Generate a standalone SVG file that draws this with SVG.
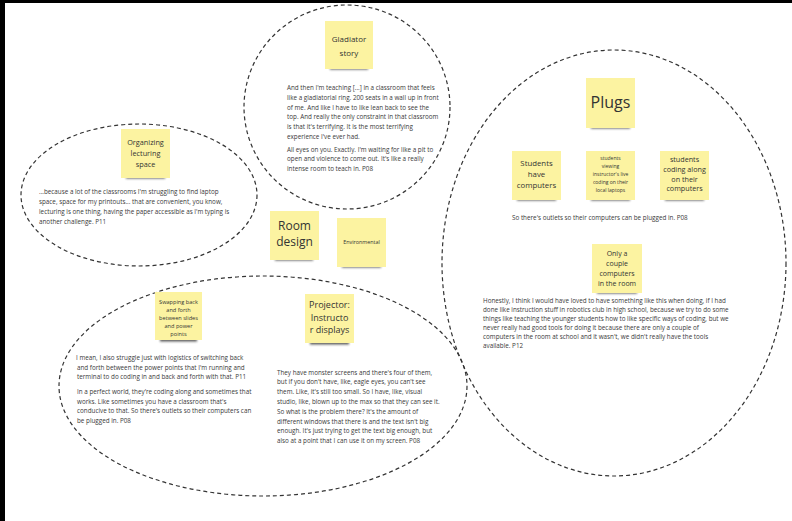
<svg xmlns="http://www.w3.org/2000/svg" width="792" height="521" viewBox="0 0 792 521">
<defs>
<filter id="blur" x="-20%" y="-200%" width="140%" height="500%"><feGaussianBlur stdDeviation="1.3"/></filter>
</defs>
<style>
.st{fill:#fcf3a1}
.sh{fill:#333;opacity:.8;filter:url(#blur)}
.ring{fill:none;stroke:#333;stroke-width:1.2;stroke-dasharray:4 3}
.bd{font-family:'Open Sans','DejaVu Sans',sans-serif;font-size:6.3px;fill:#3a3a3a}
.lb{font-family:'Open Sans','DejaVu Sans',sans-serif;fill:#333;text-anchor:middle}
</style>
<rect x="0" y="0" width="792" height="521" fill="#ffffff"/>
<rect x="0" y="0" width="792" height="3" fill="#000"/>
<rect x="0" y="0" width="5" height="521" fill="#000"/>

<g id="clusters">
<ellipse class="ring" cx="347" cy="107" rx="103" ry="102"/>
<ellipse class="ring" cx="139" cy="195" rx="118" ry="71"/>
<ellipse class="ring" cx="263" cy="386" rx="204" ry="110"/>
<ellipse class="ring" cx="614" cy="263" rx="172" ry="213"/>
</g>

<g id="connectors"></g>

<g id="gladiator-story">
<rect class="sh" x="330" y="66" width="38" height="3.5"/>
<rect class="st" x="325" y="21" width="48" height="48"/>
<text class="lb" font-size="8" x="349" y="42">Gladiator</text>
<text class="lb" font-size="8" x="349" y="56">story</text>
</g>
<g id="gladiator-quote">
<text class="bd">
<tspan x="287" y="90">And then I'm teaching [...] in a classroom that feels</tspan>
<tspan x="287" y="99.8">like a gladiatorial ring. 200 seats in a wall up in front</tspan>
<tspan x="287" y="109.6">of me. And like I have to like lean back to see the</tspan>
<tspan x="287" y="119.4">top. And really the only constraint in that classroom</tspan>
<tspan x="287" y="129.2">is that it's terrifying. It is the most terrifying</tspan>
<tspan x="287" y="139">experience I've ever had.</tspan>
<tspan x="287" y="151.5">All eyes on you. Exactly. I'm waiting for like a pit to</tspan>
<tspan x="287" y="161.3">open and violence to come out. It's like a really</tspan>
<tspan x="287" y="171.1">intense room to teach in. P08</tspan>
</text>
</g>

<g id="organizing-lecturing-space">
<rect class="sh" x="126" y="175" width="39" height="3.5"/>
<rect class="st" x="121" y="129" width="49" height="49"/>
<text class="lb" font-size="7.3" x="145.5" y="145">Organizing</text>
<text class="lb" font-size="7.3" x="145.5" y="156">lecturing</text>
<text class="lb" font-size="7.3" x="145.5" y="167">space</text>
</g>
<g id="organizing-quote">
<text class="bd">
<tspan x="39" y="194">...because a lot of the classrooms I'm struggling to find laptop</tspan>
<tspan x="39" y="204">space, space for my printouts... that are convenient, you know,</tspan>
<tspan x="39" y="214">lecturing is one thing, having the paper accessible as I'm typing is</tspan>
<tspan x="39" y="224">another challenge. P11</tspan>
</text>
</g>

<g id="room-design">
<rect class="sh" x="275" y="257" width="38" height="3.5"/>
<rect class="st" x="270" y="211" width="49" height="49"/>
<text class="lb" font-size="12" x="294.5" y="229.5">Room</text>
<text class="lb" font-size="12" x="294.5" y="246">design</text>
</g>

<g id="environmental">
<rect class="sh" x="342" y="264" width="39" height="3.5"/>
<rect class="st" x="337" y="218" width="49" height="49"/>
<text class="lb" font-size="5.4" x="361.5" y="243.5">Environmental</text>
</g>

<g id="swapping">
<rect class="sh" x="160" y="338" width="37" height="3.5"/>
<rect class="st" x="155" y="292" width="47" height="48"/>
<text class="lb" font-size="5.6" x="178.5" y="304">Swapping back</text>
<text class="lb" font-size="5.6" x="178.5" y="312">and forth</text>
<text class="lb" font-size="5.6" x="178.5" y="320">between slides</text>
<text class="lb" font-size="5.6" x="178.5" y="328">and power</text>
<text class="lb" font-size="5.6" x="178.5" y="336">points</text>
</g>
<g id="swapping-quotes">
<text class="bd">
<tspan x="76" y="360">I mean, I also struggle just with logistics of switching back</tspan>
<tspan x="77" y="369.5">and forth between the power points that I'm running and</tspan>
<tspan x="77" y="379">terminal to do coding in and back and forth with that.  P11</tspan>
</text>
<text class="bd">
<tspan x="77" y="394">In a perfect world, they're coding along and sometimes that</tspan>
<tspan x="77" y="403.5">works. Like sometimes you have a classroom that's</tspan>
<tspan x="77" y="413">conducive to that. So there's outlets so their computers can</tspan>
<tspan x="77" y="422.5">be plugged in. P08</tspan>
</text>
</g>

<g id="projector">
<rect class="sh" x="310" y="341" width="39" height="3.5"/>
<rect class="st" x="305" y="294" width="49" height="49"/>
<text class="lb" font-size="9" x="329.5" y="308">Projector:</text>
<text class="lb" font-size="9" x="329.5" y="320.5">Instructo</text>
<text class="lb" font-size="9" x="329.5" y="333">r displays</text>
</g>
<g id="projector-quote">
<text class="bd">
<tspan x="277" y="374.5">They have monster screens and there's four of them,</tspan>
<tspan x="277" y="384.3">but if you don't have, like, eagle eyes, you can't see</tspan>
<tspan x="277" y="394.1">them. Like, it's still too small. So I have, like, visual</tspan>
<tspan x="277" y="403.9">studio, like, blown up to the max so that they can see it.</tspan>
<tspan x="277" y="413.7">So what is the problem there? It's the amount of</tspan>
<tspan x="277" y="423.5">different windows that there is and the text isn't big</tspan>
<tspan x="277" y="433.3">enough. It's just trying to get the text big enough, but</tspan>
<tspan x="277" y="443.1">also at a point that I can use it on my screen. P08</tspan>
</text>
</g>

<g id="plugs">
<rect class="sh" x="591" y="125" width="39" height="3.5"/>
<rect class="st" x="586" y="78" width="49" height="50"/>
<text class="lb" font-size="16" x="610.5" y="108">Plugs</text>
</g>

<g id="students-have-computers">
<rect class="sh" x="517" y="197" width="39" height="3.5"/>
<rect class="st" x="512" y="151" width="49" height="49"/>
<text class="lb" font-size="7.8" x="536.5" y="165.5">Students</text>
<text class="lb" font-size="7.8" x="536.5" y="176.5">have</text>
<text class="lb" font-size="7.8" x="536.5" y="187.5">computers</text>
</g>

<g id="students-viewing">
<rect class="sh" x="591" y="197" width="39" height="3.5"/>
<rect class="st" x="586" y="151" width="49" height="49"/>
<text class="lb" font-size="5" x="610.5" y="160">students</text>
<text class="lb" font-size="5" x="610.5" y="168">viewing</text>
<text class="lb" font-size="5" x="610.5" y="176">instructor's live</text>
<text class="lb" font-size="5" x="610.5" y="184">coding on their</text>
<text class="lb" font-size="5" x="610.5" y="191.5">local laptops</text>
</g>

<g id="students-coding-along">
<rect class="sh" x="665" y="197" width="39" height="3.5"/>
<rect class="st" x="660" y="151" width="49" height="49"/>
<text class="lb" font-size="7.2" x="684.5" y="161.5">students</text>
<text class="lb" font-size="7.2" x="684.5" y="171.5">coding along</text>
<text class="lb" font-size="7.2" x="684.5" y="181.5">on their</text>
<text class="lb" font-size="7.2" x="684.5" y="191">computers</text>
</g>

<g id="plugs-quote">
<text class="bd" x="512" y="220">So there's outlets so their computers can be plugged in. P08</text>
</g>

<g id="only-a-couple">
<rect class="sh" x="597" y="290" width="40" height="3.5"/>
<rect class="st" x="592" y="244" width="50" height="49"/>
<text class="lb" font-size="7" x="617" y="255.5">Only a</text>
<text class="lb" font-size="7" x="617" y="265.5">couple</text>
<text class="lb" font-size="7" x="617" y="275.5">computers</text>
<text class="lb" font-size="7" x="617" y="285.5">in the room</text>
</g>
<g id="only-a-couple-quote">
<text class="bd">
<tspan x="483" y="303">Honestly, I think I would have loved to have something like this when doing, if I had</tspan>
<tspan x="483" y="312">done like instruction stuff in robotics club in high school, because we try to do some</tspan>
<tspan x="483" y="321">things like teaching the younger students how to like specific ways of coding, but we</tspan>
<tspan x="483" y="330">never really had good tools for doing it because there are only a couple of</tspan>
<tspan x="483" y="339">computers in the room at school and it wasn't, we didn't really have the tools</tspan>
<tspan x="483" y="348">available. P12</tspan>
</text>
</g>
</svg>
